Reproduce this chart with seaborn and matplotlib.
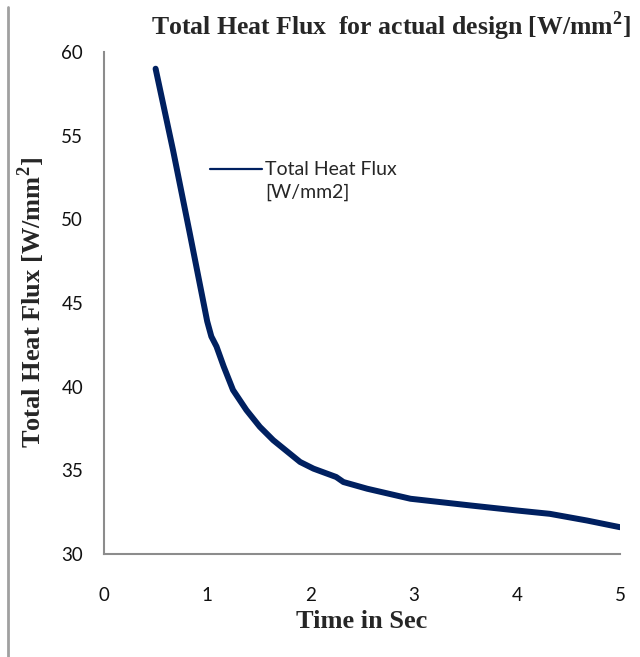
import numpy as np
import pandas as pd
import matplotlib
matplotlib.use("Agg")
import matplotlib.pyplot as plt
import seaborn as sns
from matplotlib.lines import Line2D

# values
time_s = [0.50, 0.67, 0.83, 1.00, 1.04, 1.09, 1.16, 1.25, 1.38, 1.51, 1.64,
          1.80, 1.90, 2.03, 2.25, 2.32, 2.55, 2.97, 3.26, 3.55, 4.00, 4.32,
          4.68, 5.00]
heat_flux = [59.0, 54.1, 49.2, 43.9, 43.0, 42.4, 41.2, 39.8, 38.6, 37.6, 36.8,
             36.0, 35.5, 35.1, 34.6, 34.3, 33.9, 33.3, 33.1, 32.9, 32.6, 32.4,
             32.0, 31.6]

df = pd.DataFrame({"Time": time_s, "Flux": heat_flux})

sns.set_style("white")
plt.rcParams["font.family"] = ["Lato", "DejaVu Sans"]
plt.rcParams["mathtext.fontset"] = "custom"
plt.rcParams["mathtext.bf"] = "Liberation Serif:bold"
plt.rcParams["mathtext.rm"] = "Liberation Serif:bold"

fig = plt.figure(figsize=(6.4, 6.57), dpi=100)
ax = fig.add_axes([0.1625, 0.1568, 0.80625, 0.7641])

sns.lineplot(data=df, x="Time", y="Flux", color="#002060", linewidth=4.3,
             ax=ax, label="Total Heat Flux", solid_capstyle="round")

ax.set_xlim(0, 5)
ax.set_ylim(30, 60)
ax.set_xticks(range(0, 6))
ax.set_yticks(range(30, 61, 5))
ax.tick_params(axis="both", length=0, labelsize=13.5, colors="#111111")
ax.tick_params(axis="x", pad=24)
ax.tick_params(axis="y", pad=15)

for side in ["top", "right"]:
    ax.spines[side].set_visible(False)
for side in ["left", "bottom"]:
    ax.spines[side].set_color("#8c8c8c")
    ax.spines[side].set_linewidth(1.5)

serif = ["Liberation Serif", "DejaVu Serif"]
ax.set_xlabel("Time in Sec", fontsize=19, fontweight="bold", family=serif, labelpad=4)
ax.set_ylabel("Total Heat Flux [W/mm$^{\\mathbf{2}}$]", fontsize=19, fontweight="bold",
              family=serif, labelpad=10)
ax.set_title("Total Heat Flux  for actual design [W/mm$^{\\mathbf{2}}$]", fontsize=18.5,
             fontweight="bold", family=serif, x=0.556, pad=12)

# legend: line beside first line of the label, second line below it
handles = [Line2D([], [], color="#002060", linewidth=1.6),
           Line2D([], [], color="none")]
labels = ["Total Heat Flux", "[W/mm2]"]
ax.legend(handles, labels, loc="upper left", bbox_to_anchor=(0.205, 0.782),
          frameon=False, fontsize=14, handlelength=2.7, handletextpad=0.15,
          labelspacing=0.25, borderaxespad=0, borderpad=0)

# page frame line on the left
fig.add_artist(Line2D([0.0125, 0.0125], [0.0, 0.99], color="#a0a0a0", linewidth=2))

fig.savefig("out.png", dpi=100)
